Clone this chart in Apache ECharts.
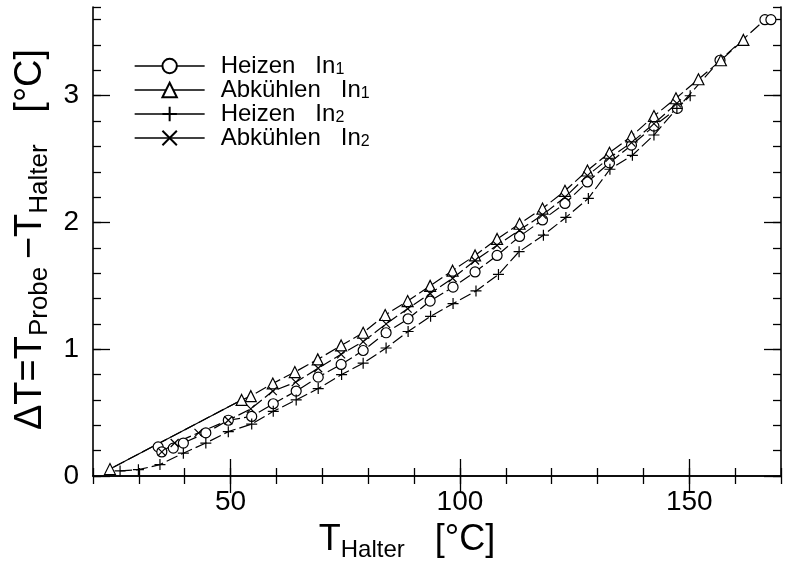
<!DOCTYPE html>
<html>
<head>
<meta charset="utf-8">
<script src="https://cdn.jsdelivr.net/npm/echarts@6/dist/echarts.min.js"></script>
<style>
html,body{margin:0;padding:0;background:#fff;}
#c{width:787px;height:567px;}
</style>
</head>
<body>
<div id="c"></div>
<script>
// ---- data ----
const heizenIn1T = [34.2,35.0,37.5,39.7,44.6,49.5,54.6,59.3,64.3,69.1,74.1,78.9,83.9,88.7,93.5,98.5,103.3,108.1,113.0,118.0,122.9,127.8,132.6,137.4,142.3,147.4,156.7,166.5,167.8];
const heizenIn1V = [0.23,0.19,0.22,0.26,0.34,0.44,0.47,0.57,0.67,0.78,0.88,0.99,1.13,1.24,1.38,1.49,1.61,1.74,1.89,2.02,2.15,2.32,2.47,2.61,2.76,2.90,3.28,3.60,3.60];

const abkuehlenIn1T = [161.8,156.9,152.0,147.1,142.3,137.4,132.6,127.8,122.9,118.0,113.0,108.1,103.3,98.4,93.5,88.6,83.7,78.9,74.1,69.0,64.0,59.2,54.4,52.4,23.7];
const abkuehlenIn1V = [3.44,3.28,3.13,2.98,2.84,2.68,2.55,2.41,2.25,2.11,1.99,1.87,1.74,1.62,1.50,1.38,1.27,1.13,1.03,0.92,0.82,0.73,0.63,0.60,0.055];

const heizenIn2T = [25.9,29.9,34.6,39.7,44.6,49.5,54.6,59.3,64.3,69.1,74.2,78.9,83.9,88.7,93.6,98.5,103.5,108.4,112.9,118.2,123.1,128.0,132.7,137.6,142.3,147.3,150.2];
const heizenIn2V = [0.04,0.05,0.09,0.18,0.26,0.35,0.41,0.51,0.60,0.69,0.80,0.89,1.01,1.14,1.26,1.36,1.46,1.59,1.77,1.90,2.04,2.19,2.42,2.53,2.69,2.90,3.00];

const abkuehlenIn2T = [147.3,142.3,137.4,132.6,127.8,122.9,118.0,113.0,108.1,103.3,98.4,93.5,88.6,83.9,78.9,74.1,69.1,64.2,59.2,54.4,49.5,43.0,37.8,35.0];
const abkuehlenIn2V = [2.94,2.78,2.63,2.51,2.37,2.20,2.06,1.94,1.82,1.70,1.56,1.44,1.32,1.20,1.06,0.96,0.85,0.74,0.67,0.53,0.44,0.34,0.26,0.19];

const seriesNames = ['Heizen In1','Abkühlen In1','Heizen In2','Abkühlen In2'];
const legendLabels = {
  'Heizen In1': '{n|Heizen   In}{s|1}',
  'Abkühlen In1': '{n|Abkühlen   In}{s|1}',
  'Heizen In2': '{n|Heizen   In}{s|2}',
  'Abkühlen In2': '{n|Abkühlen   In}{s|2}'
};

const xRange = [20, 170];
const yRange = [0, 3.7];
const xTickLabels = [50, 100, 150];
const xMajorTicks = [50, 100, 150];
const yTickLabels = [0, 1, 2, 3];
const yMajorTicks = [0, 1, 2, 3];

// ---- helpers ----
const FONT = '"Liberation Sans", Arial, sans-serif';
const pairs = (xs, ys) => xs.map((x, i) => [x, ys[i]]);
const PLUS = 'path://M0,5L10,5M5,0L5,10';
const CROSS = 'path://M0,0L10,10M10,0L0,10';

const frameLine = { show: true, lineStyle: { color: '#000', width: 1.6 } };
const gridRect = { left: 93, right: 6, top: 7, bottom: 91 };

function xMinorAxis(pos, labels) {
  return {
    type: 'value', gridIndex: 0, position: pos, min: xRange[0], max: xRange[1], interval: 10,
    axisLine: frameLine,
    axisTick: { show: true, inside: true, length: 8, lineStyle: { color: '#000', width: 1.3 } },
    axisLabel: labels ? {
      show: true, color: '#000', fontFamily: FONT, fontSize: 28, margin: 12,
      customValues: xTickLabels
    } : { show: false },
    splitLine: { show: false }
  };
}
function xMajorAxis(pos) {
  return {
    type: 'value', gridIndex: 1, position: pos, min: xRange[0], max: xRange[1],
    axisLine: { show: false },
    axisTick: { show: true, inside: true, length: 17, customValues: xMajorTicks, lineStyle: { color: '#000', width: 1.3 } },
    axisLabel: { show: false },
    splitLine: { show: false }
  };
}
function yMinorAxis(pos, labels) {
  return {
    type: 'value', gridIndex: 0, position: pos, min: yRange[0], max: yRange[1], interval: 0.2,
    axisLine: frameLine,
    axisTick: { show: true, inside: true, length: 8, lineStyle: { color: '#000', width: 1.3 } },
    axisLabel: labels ? {
      show: true, color: '#000', fontFamily: FONT, fontSize: 28, margin: 14,
      customValues: yTickLabels
    } : { show: false },
    splitLine: { show: false }
  };
}
function yMajorAxis(pos) {
  return {
    type: 'value', gridIndex: 1, position: pos, min: yRange[0], max: yRange[1],
    axisLine: { show: false },
    axisTick: { show: true, inside: true, length: 17, customValues: yMajorTicks, lineStyle: { color: '#000', width: 1.3 } },
    axisLabel: { show: false },
    splitLine: { show: false }
  };
}

const xAx0 = xMinorAxis('bottom', true);
xAx0.name = '{n|T}{s|Halter}{n|   [°C]}';
xAx0.nameLocation = 'middle';
xAx0.nameGap = 42;
xAx0.nameTextStyle = {
  padding: [0, 60, 0, 0],
  rich: {
    n: { fontFamily: FONT, fontSize: 36, color: '#000', lineHeight: 44, verticalAlign: 'middle' },
    s: { fontFamily: FONT, fontSize: 24, color: '#000', lineHeight: 23, verticalAlign: 'bottom' }
  }
};

const yAx0 = yMinorAxis('left', true);
yAx0.name = '{n|\u0394T=T}{s|Probe}{n|\u2009\u2212T}{s|Halter}{n|   [°C]}';
yAx0.nameLocation = 'middle';
yAx0.nameGap = 39;
yAx0.nameRotate = 90;
yAx0.nameTextStyle = {
  padding: [0, 0, 0, 4],
  rich: {
    n: { fontFamily: FONT, fontSize: 38, color: '#000', lineHeight: 44, verticalAlign: 'middle' },
    s: { fontFamily: FONT, fontSize: 26, color: '#000', lineHeight: 22, verticalAlign: 'bottom' }
  }
};

function dataSeries(name, xs, ys, symbol, size) {
  return {
    name: name, type: 'line', xAxisIndex: 0, yAxisIndex: 0,
    data: pairs(xs, ys),
    symbol: symbol, symbolSize: size, showSymbol: true,
    lineStyle: { color: '#000', width: 1.2, type: [12, 4] },
    itemStyle: { color: '#fff', borderColor: '#000', borderWidth: 1.2 },
    emphasis: { disabled: true },
    animation: false, z: 2
  };
}

const option = {
  animation: false,
  backgroundColor: '#fff',
  grid: [Object.assign({}, gridRect), Object.assign({}, gridRect)],
  xAxis: [xAx0, xMinorAxis('top', false), xMajorAxis('bottom'), xMajorAxis('top')],
  yAxis: [yAx0, yMinorAxis('right', false), yMajorAxis('left'), yMajorAxis('right')],
  legend: {
    data: seriesNames,
    orient: 'vertical',
    left: 134, top: 54,
    padding: 0,
    itemWidth: 70, itemHeight: 18, itemGap: 0,
    selectedMode: false,
    lineStyle: { type: 'solid', width: 1.3, color: '#000' },
    formatter: n => legendLabels[n],
    textStyle: {
      color: '#000', padding: [0, 0, 0, 11],
      rich: {
        n: { fontFamily: FONT, fontSize: 24, color: '#000', lineHeight: 24, verticalAlign: 'middle' },
        s: { fontFamily: FONT, fontSize: 16, color: '#000', lineHeight: 8, verticalAlign: 'bottom' }
      }
    }
  },
  series: [
    {
      name: 'segment', type: 'line', xAxisIndex: 0, yAxisIndex: 0,
      data: pairs(abkuehlenIn1T.slice(-2), abkuehlenIn1V.slice(-2)),
      symbol: 'none', lineStyle: { color: '#000', width: 1.2, type: 'solid' },
      emphasis: { disabled: true }, z: 1
    },
    dataSeries('Heizen In1', heizenIn1T, heizenIn1V, 'circle', 10),
    dataSeries('Abkühlen In1', abkuehlenIn1T, abkuehlenIn1V, 'triangle', 11),
    dataSeries('Heizen In2', heizenIn2T, heizenIn2V, PLUS, 11),
    dataSeries('Abkühlen In2', abkuehlenIn2T, abkuehlenIn2V, CROSS, 8)
  ]
};

const chart = echarts.init(document.getElementById('c'), null, { renderer: 'canvas' });
chart.setOption(option);
</script>
</body>
</html>
